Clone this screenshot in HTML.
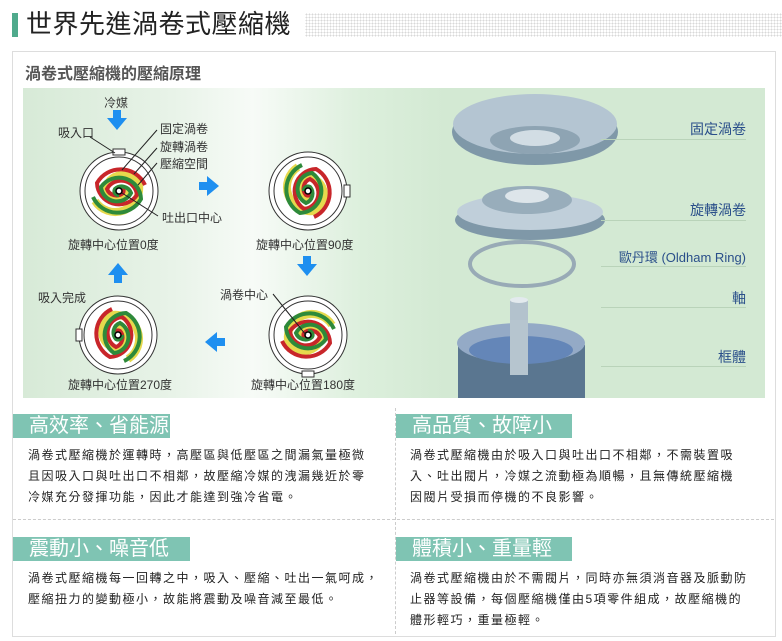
<!DOCTYPE html>
<html><head><meta charset="utf-8">
<style>
body{margin:0;width:782px;height:641px;background:#fff;font-family:"Liberation Sans","Noto Sans CJK TC",sans-serif;position:relative;overflow:hidden}
.a{position:absolute}
.t{font-size:12px;color:#333;white-space:nowrap}
.h{position:absolute;background:#7fc4b3;color:#fff;font-size:20px;line-height:24px;padding-left:16px;height:24px}
.p{position:absolute;font-size:12px;color:#222;line-height:21px;white-space:nowrap;letter-spacing:1.5px}
.lbl{position:absolute;font-size:14px;color:#2a4f8a;text-align:right;right:36px}
.ln{position:absolute;height:1px;background:#b9d3b9;right:36px}
</style></head><body>
<div class="a" style="left:12px;top:13px;width:6px;height:24px;background:#4faa8c"></div>
<div class="a" style="left:26px;top:6px;font-size:26px;color:#222;line-height:36px;letter-spacing:0.5px">世界先進渦卷式壓縮機</div>
<div class="a" style="left:305px;top:13px;width:477px;height:24px;background-image:radial-gradient(#d8d8d8 0.8px,transparent 0.9px);background-size:3px 3px"></div>
<div class="a" style="left:12px;top:51px;width:762px;height:584px;border:1px solid #ddd"></div>
<div class="a" style="left:25px;top:60px;font-size:16px;color:#555;font-weight:bold">渦卷式壓縮機的壓縮原理</div>
<div class="a" style="left:23px;top:88px;width:742px;height:310px;background:linear-gradient(90deg,#d7ead7 0px,#e8f3e8 150px,#f7fbf7 230px,#dcefdc 340px,#d3e9d3 420px,#d3e9d3 100%)"></div>
<svg class="a" style="left:0;top:0" width="782" height="641">
<defs>
<g id="sc">
<circle r="39" fill="#fff" stroke="#333" stroke-width="1"/>
<circle r="34" fill="none" stroke="#333" stroke-width="1"/>
<rect x="-6" y="-42" width="12" height="6" fill="#fff" stroke="#333" stroke-width="1"/>
<path d="M-2 2 A6 6 0 0 1 8 0 A12 12 0 0 1 -14 4 A18 18 0 0 1 20 -6 A24 24 0 0 1 -24 10" fill="none" stroke="#e0d020" stroke-width="8" opacity=".8"/>
<path d="M0 -4 A4 4 0 0 1 4 2 A10 10 0 0 1 -12 -2 A16 16 0 0 1 18 4 A22 22 0 0 1 -22 -8 A27 27 0 0 1 26 -6" fill="none" stroke="#c8262a" stroke-width="4"/>
<path d="M0 4 A4 4 0 0 1 -4 -2 A10 10 0 0 1 12 2 A16 16 0 0 1 -18 -4 A22 22 0 0 1 22 8 A27 27 0 0 1 -26 6" fill="none" stroke="#2e8a3a" stroke-width="4"/>
<circle r="3" fill="#fff" stroke="#000" stroke-width="1.5"/>
</g>
<g id="ar"><rect x="-4" y="-13" width="8" height="9" fill="#1e8ff0"/><path d="M-10 -5 L10 -5 L0 7Z" fill="#1e8ff0"/></g>
</defs>
<use href="#sc" x="119" y="191"/>
<use href="#sc" x="308" y="191" transform="rotate(90 308 191)"/>
<use href="#sc" x="308" y="335" transform="rotate(180 308 335)"/>
<use href="#sc" x="118" y="335" transform="rotate(270 118 335)"/>
<use href="#ar" x="117" y="123"/>
<use href="#ar" x="307" y="269"/>
<use href="#ar" x="118" y="270" transform="rotate(180 118 270)"/>
<use href="#ar" x="212" y="186" transform="rotate(-90 212 186)"/>
<use href="#ar" x="212" y="342" transform="rotate(90 212 342)"/>
<g stroke="#222" stroke-width="1" fill="none">
<line x1="90" y1="137" x2="115" y2="153"/>
<line x1="157" y1="130" x2="122" y2="170"/>
<line x1="157" y1="148" x2="134" y2="174"/>
<line x1="157" y1="163" x2="138" y2="185"/>
<line x1="158" y1="216" x2="122" y2="193"/>
<line x1="273" y1="294" x2="306" y2="335"/>
</g>
<g>
<ellipse cx="535" cy="132" rx="83" ry="33" fill="#7f98a8"/>
<ellipse cx="535" cy="124" rx="82" ry="30" fill="#b4c5d2"/>
<ellipse cx="535" cy="140" rx="45" ry="14" fill="#8ea4b3"/>
<ellipse cx="535" cy="138" rx="25" ry="8" fill="#d2dde4"/>
<ellipse cx="530" cy="220" rx="75" ry="20" fill="#7f98a8"/>
<ellipse cx="530" cy="212" rx="73" ry="18" fill="#c0cfda"/>
<ellipse cx="527" cy="200" rx="45" ry="14" fill="#98adbb"/>
<ellipse cx="527" cy="196" rx="22" ry="7" fill="#dde5ea"/>
<ellipse cx="522" cy="264" rx="52" ry="22" fill="none" stroke="#98aab6" stroke-width="4"/>
<rect x="510" y="300" width="18" height="45" fill="#b3c2cd"/>
<ellipse cx="519" cy="300" rx="9" ry="3" fill="#e3eaee"/>
<path d="M458 345 Q520 310 585 345 L585 398 L458 398Z" fill="#5a7690"/>
<ellipse cx="521" cy="343" rx="64" ry="20" fill="#94aac6"/>
<ellipse cx="521" cy="350" rx="52" ry="14" fill="#6486b8"/>
<rect x="510" y="320" width="18" height="55" fill="#b6c5cf"/>
</g>
</svg>
<div class="t a" style="left:104px;top:94px">冷媒</div>
<div class="t a" style="left:58px;top:124px">吸入口</div>
<div class="t a" style="left:160px;top:120px">固定渦卷</div>
<div class="t a" style="left:160px;top:138px">旋轉渦卷</div>
<div class="t a" style="left:160px;top:155px">壓縮空間</div>
<div class="t a" style="left:162px;top:209px">吐出口中心</div>
<div class="t a" style="left:68px;top:236px">旋轉中心位置0度</div>
<div class="t a" style="left:256px;top:236px">旋轉中心位置90度</div>
<div class="t a" style="left:38px;top:289px">吸入完成</div>
<div class="t a" style="left:220px;top:286px">渦卷中心</div>
<div class="t a" style="left:68px;top:376px">旋轉中心位置270度</div>
<div class="t a" style="left:251px;top:376px">旋轉中心位置180度</div>
<div class="lbl" style="top:119px">固定渦卷</div><div class="ln" style="top:139px;width:145px"></div>
<div class="lbl" style="top:200px">旋轉渦卷</div><div class="ln" style="top:220px;width:145px"></div>
<div class="lbl" style="top:247px;font-size:13px">歐丹環 (Oldham Ring)</div><div class="ln" style="top:266px;width:145px"></div>
<div class="lbl" style="top:288px">軸</div><div class="ln" style="top:307px;width:145px"></div>
<div class="lbl" style="top:347px">框體</div><div class="ln" style="top:366px;width:145px"></div>
<div class="a" style="left:395px;top:408px;height:226px;border-left:1px dashed #ccc"></div>
<div class="a" style="left:13px;top:519px;width:761px;border-top:1px dashed #ccc"></div>
<div class="h" style="left:13px;top:414px;width:141px">高效率、省能源</div>
<div class="h" style="left:396px;top:414px;width:160px">高品質、故障小</div>
<div class="h" style="left:13px;top:537px;width:161px">震動小、噪音低</div>
<div class="h" style="left:396px;top:537px;width:160px">體積小、重量輕</div>
<div class="p" style="left:28px;top:445px">渦卷式壓縮機於運轉時，高壓區與低壓區之間漏氣量極微<br>且因吸入口與吐出口不相鄰，故壓縮冷媒的洩漏幾近於零<br>冷媒充分發揮功能，因此才能達到強冷省電。</div>
<div class="p" style="left:410px;top:445px">渦卷式壓縮機由於吸入口與吐出口不相鄰，不需裝置吸<br>入、吐出閥片，冷媒之流動極為順暢，且無傳統壓縮機<br>因閥片受損而停機的不良影響。</div>
<div class="p" style="left:28px;top:568px">渦卷式壓縮機每一回轉之中，吸入、壓縮、吐出一氣呵成，<br>壓縮扭力的變動極小，故能將震動及噪音減至最低。</div>
<div class="p" style="left:410px;top:568px">渦卷式壓縮機由於不需閥片，同時亦無須消音器及脈動防<br>止器等設備，每個壓縮機僅由5項零件組成，故壓縮機的<br>體形輕巧，重量極輕。</div>
</body></html>
